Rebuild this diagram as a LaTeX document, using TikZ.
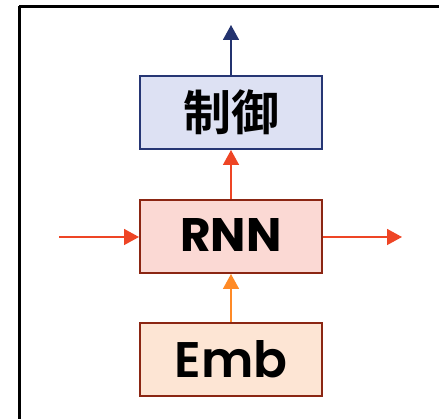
\documentclass[tikz,border=0pt]{standalone}
\usepackage{fontspec}
\setmainfont{Poppins}
\newfontfamily\popsemi{Poppins}[UprightFont={* SemiBold}, BoldFont={* Bold}]
\newfontfamily\cjkfont{Noto Sans CJK SC}[BoldFont={* Bold}]
\usetikzlibrary{arrows.meta}
\definecolor{ctrlfill}{HTML}{DDE1F3}
\definecolor{ctrldraw}{HTML}{263674}
\definecolor{rnnfill}{HTML}{FBD9D4}
\definecolor{embfill}{HTML}{FDE5D4}
\definecolor{boxdraw}{HTML}{8B2613}
\definecolor{redline}{HTML}{EE4525}
\definecolor{orangeline}{HTML}{FF8A26}
\definecolor{navyline}{HTML}{23336F}
\tikzset{
  x=1pt, y=1pt,
  block/.style={draw, line width=2pt, minimum width=182pt, minimum height=73pt, inner sep=0pt},
  flow/.style={line width=1.6pt, -{Triangle[length=15pt,width=16pt]}},
}
\begin{document}
\begin{tikzpicture}
\useasboundingbox (0,0) rectangle (439,419);
\begin{scope}
  \clip (0,0) rectangle (439,419);
  % outer frame, running off the right and bottom edges
  \draw[line width=3.2pt, black] (19.3,412.8) -- (480,412.8);
  \draw[line width=3.2pt, black] (19.3,412.8) -- (19.3,-20);
\end{scope}
% blocks
\node[block, draw=ctrldraw, fill=ctrlfill] (ctrl) at (231,306.5)
  {\raisebox{-4pt}{\cjkfont\bfseries\fontsize{48}{48}\selectfont 制御}};
\node[block, draw=boxdraw, fill=rnnfill] (rnn) at (231,182.5)
  {\raisebox{2pt}{\popsemi\bfseries\fontsize{47}{47}\selectfont RNN}};
\node[block, draw=boxdraw, fill=embfill] (emb) at (231,59.5)
  {\popsemi\fontsize{50}{50}\selectfont Emb};
% free ends
\coordinate (out) at (231,394);
\coordinate (left) at (59,182);
\coordinate (right) at (402,182);
% connectors
\draw[flow, navyline] (ctrl.north) -- (out);
\draw[flow, redline] (rnn.north) -- (ctrl.south);
\draw[flow, orangeline] (emb.north) -- (rnn.south);
\draw[flow, redline] (left) -- (left -| rnn.west);
\draw[flow, redline] (right -| rnn.east) -- (right);
\end{tikzpicture}
\end{document}
